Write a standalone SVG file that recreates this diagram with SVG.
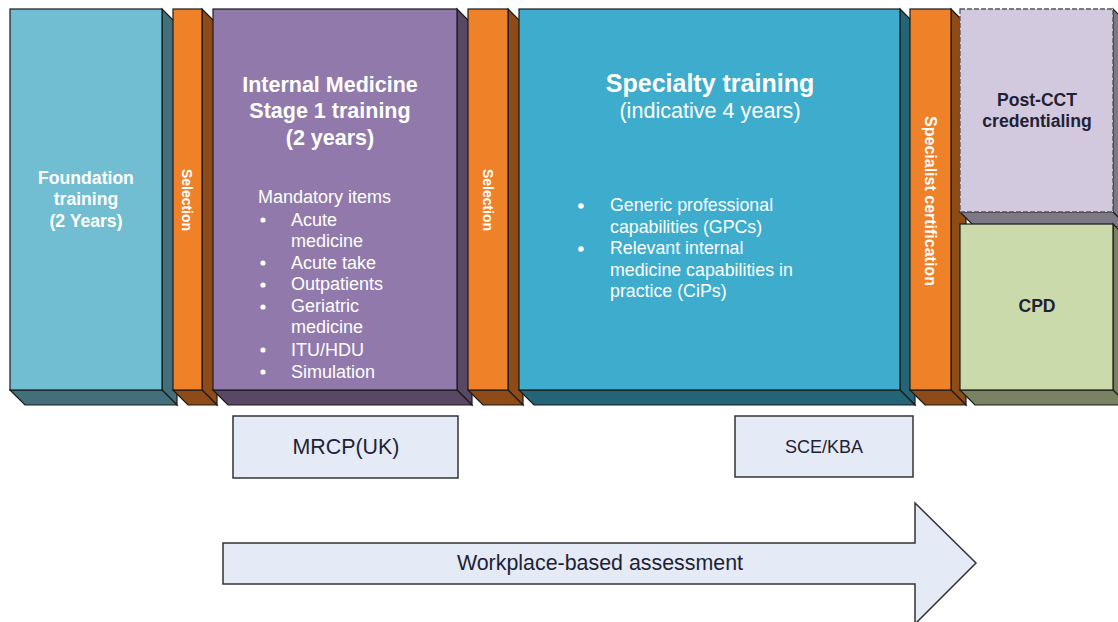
<svg xmlns="http://www.w3.org/2000/svg" width="1118" height="622" viewBox="0 0 1118 622">
<style>
text{font-family:"Liberation Sans",Arial,sans-serif}
.f{stroke:#1a1a1a;stroke-width:1.2}
.w{fill:#fff}
.b{font-weight:bold}
.d{fill:#1f2235}
.blue{fill:#71BDD1}.blueS{fill:#436F7B}
.or{fill:#EF8228}.orS{fill:#8E4A17}
.pu{fill:#917AAB}.puS{fill:#594766}
.sp{fill:#3EACCD}.spS{fill:#236577}
.li{fill:#D3C9DF}.liS{fill:#7D7886}
.gr{fill:#CBDAAA}.grS{fill:#7A8264}
.box{fill:#E4EBF6;stroke:#333;stroke-width:1.5}
</style>
<rect width="1118" height="622" fill="#fff"/>

<g id="foundation">
<polygon class="blueS f" points="162,9 177,24 177,405 162,390"/>
<polygon class="blueS f" points="10,390 162,390 177,405 25,405"/>
<rect class="blue f" x="10" y="9" width="152" height="381"/>
<text class="w b" font-size="17.6" text-anchor="middle"><tspan x="86" y="184">Foundation</tspan><tspan x="86" y="205">training</tspan><tspan x="86" y="227">(2 Years)</tspan></text>
</g>

<g id="selection1">
<polygon class="orS f" points="202,9 217,24 217,405 202,390"/>
<polygon class="orS f" points="173,390 202,390 217,405 188,405"/>
<rect class="or f" x="173" y="9" width="29" height="381"/>
<text class="w b" font-size="14" text-anchor="middle" transform="translate(187,200) rotate(90)" y="5">Selection</text>
</g>

<g id="im-stage1">
<polygon class="puS f" points="457,9 472,24 472,405 457,390"/>
<polygon class="puS f" points="213,390 457,390 472,405 228,405"/>
<rect class="pu f" x="213" y="9" width="244" height="381"/>
<text class="w b" font-size="21.5" text-anchor="middle"><tspan x="330" y="92">Internal Medicine</tspan><tspan x="330" y="118">Stage 1 training</tspan><tspan x="330" y="145">(2 years)</tspan></text>
<text class="w" font-size="18"><tspan x="258" y="203">Mandatory items</tspan><tspan x="291" y="226">Acute</tspan><tspan x="291" y="247">medicine</tspan><tspan x="291" y="269">Acute take</tspan><tspan x="291" y="290">Outpatients</tspan><tspan x="291" y="312">Geriatric</tspan><tspan x="291" y="333">medicine</tspan><tspan x="291" y="356">ITU/HDU</tspan><tspan x="291" y="378">Simulation</tspan></text>
<g class="w"><circle cx="263" cy="220" r="2.6"/><circle cx="263" cy="263" r="2.6"/><circle cx="263" cy="285" r="2.6"/><circle cx="263" cy="307" r="2.6"/><circle cx="263" cy="350" r="2.6"/><circle cx="263" cy="372" r="2.6"/></g>
</g>

<g id="selection2">
<polygon class="orS f" points="508,9 523,24 523,405 508,390"/>
<polygon class="orS f" points="468,390 508,390 523,405 483,405"/>
<rect class="or f" x="468" y="9" width="40" height="381"/>
<text class="w b" font-size="14" text-anchor="middle" transform="translate(488,200) rotate(90)" y="5">Selection</text>
</g>

<g id="specialty">
<polygon class="spS f" points="900,9 915,24 915,405 900,390"/>
<polygon class="spS f" points="519,390 900,390 915,405 534,405"/>
<rect class="sp f" x="519" y="9" width="381" height="381"/>
<text class="w b" font-size="25" text-anchor="middle" x="710" y="92">Specialty training</text>
<text class="w" font-size="21.6" text-anchor="middle" x="710" y="118">(indicative 4 years)</text>
<text class="w" font-size="17.8"><tspan x="610" y="211">Generic professional</tspan><tspan x="610" y="233">capabilities (GPCs)</tspan><tspan x="610" y="254">Relevant internal</tspan><tspan x="610" y="276">medicine capabilities in</tspan><tspan x="610" y="297">practice (CiPs)</tspan></text>
<g class="w"><circle cx="581" cy="206" r="2.8"/><circle cx="581" cy="249" r="2.8"/></g>
</g>

<g id="specialist-certification">
<polygon class="orS f" points="951,9 966,24 966,405 951,390"/>
<polygon class="orS f" points="910,390 951,390 966,405 925,405"/>
<rect class="or f" x="910" y="9" width="41" height="381"/>
<text class="w b" font-size="16" text-anchor="middle" transform="translate(930,201) rotate(90)" y="5.5">Specialist certification</text>
</g>

<g id="post-cct">
<polygon class="liS f" points="1113,9 1128,24 1128,227 1113,212"/>
<polygon class="liS f" points="960,212 1113,212 1128,227 975,227"/>
<rect class="li" x="960" y="9" width="153" height="203" stroke="#555" stroke-width="1.3" stroke-dasharray="5,2"/>
<text class="d b" font-size="17.6" text-anchor="middle"><tspan x="1037" y="106">Post-CCT</tspan><tspan x="1037" y="127">credentialing</tspan></text>
</g>

<g id="cpd">
<polygon class="grS f" points="1113,224 1128,239 1128,405 1113,390"/>
<polygon class="grS f" points="960,390 1113,390 1128,405 975,405"/>
<rect class="gr f" x="960" y="224" width="153" height="166"/>
<text class="d b" font-size="17.6" text-anchor="middle" x="1037" y="312">CPD</text>
</g>

<g id="mrcp">
<rect class="box" x="233" y="416" width="225" height="62"/>
<text class="d" font-size="21.4" text-anchor="middle" x="346" y="454">MRCP(UK)</text>
</g>

<g id="sce-kba">
<rect class="box" x="735" y="416" width="178" height="61"/>
<text class="d" font-size="18" text-anchor="middle" x="824" y="453">SCE/KBA</text>
</g>

<g id="connectors">
<g id="wba-arrow">
<polygon class="box" points="223,543 915,543 915,503 976,563 915,624 915,584 223,584"/>
<text class="d" font-size="21.4" text-anchor="middle" x="600" y="570">Workplace-based assessment</text>
</g>
</g>
</svg>
